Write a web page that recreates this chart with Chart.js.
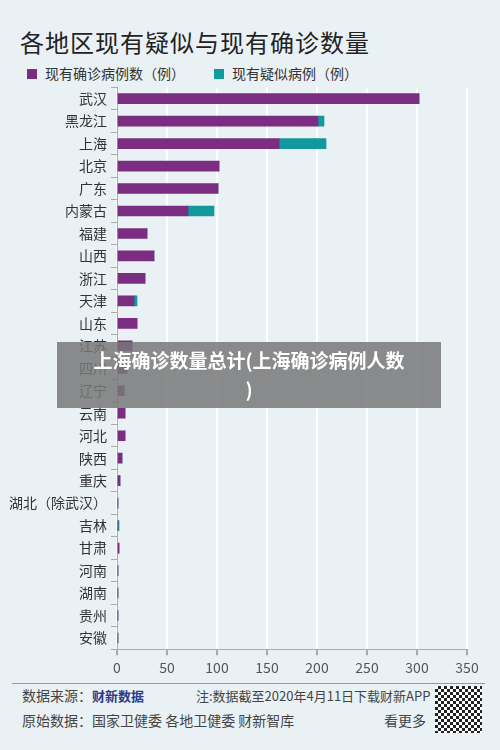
<!DOCTYPE html>
<html><head><meta charset="utf-8">
<script src="https://cdn.jsdelivr.net/npm/chart.js@4"></script>
<style>
body{margin:0;width:500px;height:750px;background:#eaf1f5;font-family:"Noto Sans CJK SC",sans-serif;position:relative;overflow:hidden;color:#333}
#title{position:absolute;left:20px;top:24px;font-size:24px;color:#222;letter-spacing:1px}
.leg{position:absolute;top:63px;font-size:14px;color:#333}
.sw{display:inline-block;width:10px;height:10px;margin-right:8px;vertical-align:0px}
#wrap{position:absolute;left:0;top:75px;width:500px;height:605px}
#banner{position:absolute;left:57px;top:342px;width:384px;height:63px;background:rgba(120,120,120,0.85);color:#fff;font-weight:bold;font-size:19px;text-align:center;line-height:29px;padding-top:3px}
#hr{position:absolute;left:12px;top:683px;width:473px;border-top:1px solid #999}
.ft{position:absolute;font-size:14px;color:#444}
</style></head><body>
<div id="title">各地区现有疑似与现有确诊数量</div>
<div class="leg" style="left:27px"><span class="sw" style="background:#7b2d82"></span>现有确诊病例数（例）</div>
<div class="leg" style="left:214px"><span class="sw" style="background:#12999b"></span>现有疑似病例（例）</div>
<div id="wrap"><canvas id="c"></canvas></div>
<div id="banner">上海确诊数量总计(上海确诊病例人数<br>)</div>
<div id="hr"></div>
<div class="ft" style="left:22px;top:685px">数据来源：<b style="color:#2b3a8c;font-size:13px">财新数据</b></div>
<div class="ft" style="left:196px;top:686px;font-size:13px">注:数据截至2020年4月11日下载财新APP</div>
<div class="ft" style="left:22px;top:710px">原始数据：国家卫健委 各地卫健委 财新智库</div>
<div class="ft" style="left:384px;top:710px">看更多</div>
<div style="position:absolute;left:435px;top:686px;width:47px;height:47px;background:repeating-conic-gradient(#222 0 25%,#fff 0 50%) 0 0/6px 6px"></div>
<script>
const categories=["武汉","黑龙江","上海","北京","广东","内蒙古","福建","山西","浙江","天津","山东","江苏","四川","辽宁","云南","河北","陕西","重庆","湖北（除武汉）","吉林","甘肃","河南","湖南","贵州","安徽"];
const confirmed=[302,201,162,102,101,71,30,37,28,17,20,15,10,7,8,8,5,3,1,1,2,1,1,1,1];
const suspected=[0,6,47,0,0,26,0,0,0,3,0,0,0,0,0,0,0,0,0,1,0,0,0,0,0];
const xTicks=[0,50,100,150,200,250,300,350];
new Chart(document.getElementById('c'),{type:'bar',
data:{labels:categories,datasets:[
{label:'现有确诊病例数（例）',data:confirmed,backgroundColor:'#7b2d82',barThickness:10},
{label:'现有疑似病例（例）',data:suspected,backgroundColor:'#12999b',barThickness:10}]},
options:{indexAxis:'y',responsive:true,maintainAspectRatio:false,animation:false,
layout:{padding:{top:6,right:33,bottom:0,left:0}},
plugins:{legend:{display:false},tooltip:{enabled:false}},
scales:{
x:{stacked:true,min:0,max:350,afterBuildTicks:s=>{s.ticks=xTicks.map(v=>({value:v}))},
grid:{color:'#ffffff',lineWidth:2,drawTicks:true,tickLength:6,tickColor:'#aaa'},border:{display:true,color:'#aaa'},
ticks:{color:'#555',font:{size:14,family:'Noto Sans CJK SC'},padding:4}},
y:{stacked:true,afterFit:s=>{s.width=117},grid:{display:true,drawOnChartArea:false,tickLength:6,color:'#aaa',offset:true},border:{display:true,color:'#aaa'},
ticks:{color:'#333',font:{size:14,family:'Noto Sans CJK SC'},padding:4}}}}});
</script></body></html>
